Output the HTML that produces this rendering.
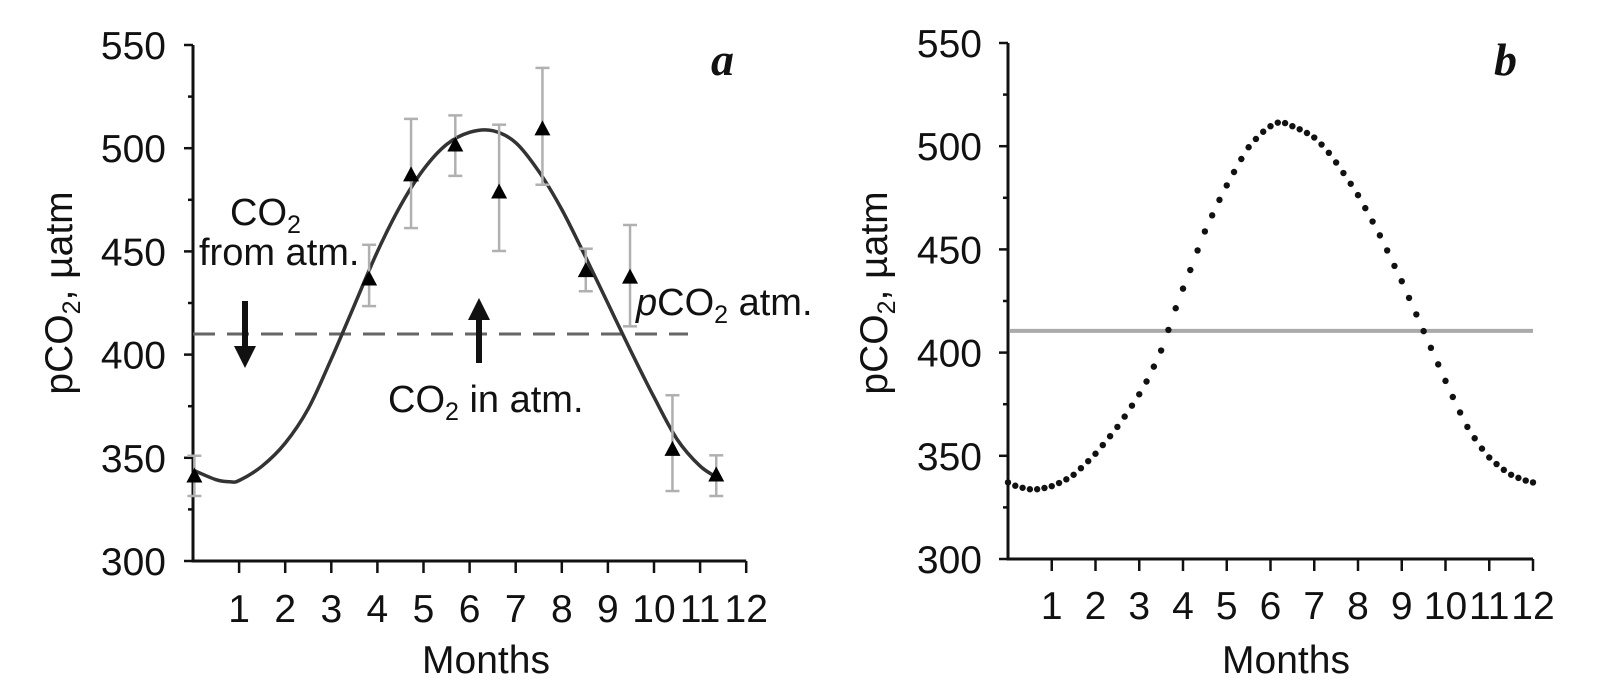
<!DOCTYPE html>
<html><head><meta charset="utf-8">
<style>
html,body{margin:0;padding:0;background:#fff;}
svg{display:block;font-family:"Liberation Sans",Arial,sans-serif;}
</style></head>
<body>
<svg id="chart" width="1606" height="695" viewBox="0 0 1606 695">
  <g id="pa"></g>
  <g id="pb"></g>
</svg>
<script>
// ---------- data ----------
const yTicks = [300, 350, 400, 450, 500, 550];
const xTickLabels = [1,2,3,4,5,6,7,8,9,10,11,12];
// panel a observations
const obsMonths = [0.03, 3.82, 4.73, 5.69, 6.64, 7.58, 8.52, 9.48, 10.4, 11.35];
const obsValues = [341.4, 436.9, 487.3, 501.8, 479.0, 509.6, 440.9, 437.8, 354.3, 341.9];
const obsErrHigh = [351.0, 453.2, 514.2, 515.9, 511.4, 538.9, 451.3, 462.8, 380.3, 351.2];
const obsErrLow = [331.5, 423.5, 461.3, 486.6, 450.2, 482.3, 430.7, 413.7, 333.9, 331.5];
// panel a fitted curve
const fitMonths = [0,0.5,0.8,1,1.5,2,2.5,3,3.5,4,4.5,5,5.5,6,6.5,7,7.5,8,8.5,9,9.5,10,10.5,11,11.4];
const fitValues = [344.1,339.4,338.4,339.0,346.0,357.1,373.8,397.9,423.9,449.9,472.1,489.7,501.8,507.7,508.5,502.7,488.8,470.3,448.0,424.8,401.6,379.4,359.0,346.0,340.1];
const atmValue = 410;
// panel b modeled values (every 1/6 month)
const modelValues = [337.1,335.5,334.5,333.8,333.8,334.4,335.3,336.8,338.6,340.8,344,347.4,351,355.2,359.5,364,369,374.3,379.8,386,393.2,401,411,421.5,431,440,449.5,458.7,466.5,474,481,487.5,493.8,499.5,503.5,507,509.7,511.4,511.2,509.7,508.2,506.4,504.2,500.8,496.8,492.1,487,481.8,476.3,470,463.5,456.8,449.5,442,434.6,426.5,418.5,410.4,402.3,394.3,386.3,378.5,371,364,358.5,353.5,349.2,346,343.2,340.8,339.3,338,337.1];
const modelStep = 1/6;
const atmValueB = 410.5;

// ---------- helpers ----------
const NS = "http://www.w3.org/2000/svg";
function mk(tag, attrs, parent){
  const e = document.createElementNS(NS, tag);
  for (const k in attrs) e.setAttribute(k, attrs[k]);
  parent.appendChild(e); return e;
}
function axesFns(x0, dx, y300, pxPerUnit){
  return { x: m => x0 + m*dx, y: v => y300 - (v-300)*pxPerUnit };
}
function smoothPath(pts){
  let d = "M" + pts[0][0] + "," + pts[0][1];
  for (let i=0;i<pts.length-1;i++){
    const p0=pts[Math.max(0,i-1)], p1=pts[i], p2=pts[i+1], p3=pts[Math.min(pts.length-1,i+2)];
    const c1x=p1[0]+(p2[0]-p0[0])/6, c1y=p1[1]+(p2[1]-p0[1])/6;
    const c2x=p2[0]-(p3[0]-p1[0])/6, c2y=p2[1]-(p3[1]-p1[1])/6;
    d += " C"+c1x+","+c1y+" "+c2x+","+c2y+" "+p2[0]+","+p2[1];
  }
  return d;
}
function drawAxes(g, A, labelRight, tickBase, titleX, monthsX, letter, letterX){
  let e = mk("line",{x1:A.x(0),y1:A.y(550),x2:A.x(0),y2:A.y(300)+1.5,stroke:"#111","stroke-width":3},g);
   
  e = mk("line",{x1:A.x(0)-1.5,y1:A.y(300),x2:A.x(12),y2:A.y(300),stroke:"#111","stroke-width":3},g);
   
  for (let v=300; v<=550; v+=25){
    const major = v%50===0;
    e = mk("line",{x1:A.x(0)-(major?9:5),y1:A.y(v),x2:A.x(0),y2:A.y(v),stroke:"#111","stroke-width":2.5},g);
     
  }
  yTicks.forEach(v=>{
    const t = mk("text",{x:labelRight,y:A.y(v)+14,"text-anchor":"end","font-size":39,fill:"#111"},g);
    t.textContent = v;
     
  });
  xTickLabels.forEach(m=>{
    e = mk("line",{x1:A.x(m),y1:A.y(300),x2:A.x(m),y2:A.y(300)+12,stroke:"#111","stroke-width":2.5},g);
     
    const t = mk("text",{x:A.x(m),y:tickBase,"text-anchor":"middle","font-size":39,fill:"#111"},g);
    t.textContent = m;
     
  });
  const xt = mk("text",{x:monthsX,y:673,"text-anchor":"middle","font-size":39,fill:"#111"},g);
  xt.textContent = "Months";
   
  const yt = mk("text",{x:0,y:0,"text-anchor":"middle","font-size":39,fill:"#111",transform:"translate("+titleX+",293) rotate(-90)"},g);
  yt.innerHTML = 'pCO<tspan font-size="25" dy="8">2</tspan><tspan dy="-8">, µatm</tspan>';
   
  const lt = mk("text",{x:letterX,y:75,"font-size":46,"font-weight":"bold","font-style":"italic","font-family":"'Liberation Serif',serif",fill:"#111"},g);
  lt.textContent = letter;
   
}

// ---------- panel a ----------
const ga = document.getElementById("pa");
const A = axesFns(193, 46.1, 561, 2.064);
drawAxes(ga, A, 166, 622, 72, 486, "a", 711);

let el = mk("line",{x1:A.x(0),y1:A.y(atmValue),x2:688,y2:A.y(atmValue),stroke:"#666","stroke-width":3,"stroke-dasharray":"22 12"},ga);
 

el = mk("path",{d:smoothPath(fitMonths.map((m,i)=>[A.x(m),A.y(fitValues[i])])),fill:"none",stroke:"#333","stroke-width":3.5},ga);
 

obsMonths.forEach((m,i)=>{
  const x = A.x(m);
  const g = mk("g",{},ga);
   
  mk("line",{x1:x,y1:A.y(obsErrHigh[i]),x2:x,y2:A.y(obsErrLow[i]),stroke:"#b0b0b0","stroke-width":2.5},g);
  mk("line",{x1:x-7,y1:A.y(obsErrHigh[i]),x2:x+7,y2:A.y(obsErrHigh[i]),stroke:"#b0b0b0","stroke-width":2.5},g);
  mk("line",{x1:x-7,y1:A.y(obsErrLow[i]),x2:x+7,y2:A.y(obsErrLow[i]),stroke:"#b0b0b0","stroke-width":2.5},g);
  const y = A.y(obsValues[i]);
  mk("polygon",{points:(x-8)+","+(y+7)+" "+(x+8)+","+(y+7)+" "+x+","+(y-8),fill:"#000"},g);
});

el = mk("g",{},ga);
 
mk("line",{x1:245,y1:301,x2:245,y2:350,stroke:"#111","stroke-width":6},el);
mk("polygon",{points:"234,346 256,346 245,368",fill:"#111"},el);
el = mk("g",{},ga);
 
mk("line",{x1:479,y1:316,x2:479,y2:363,stroke:"#111","stroke-width":6},el);
mk("polygon",{points:"468,320 490,320 479,298",fill:"#111"},el);
</script>
<script>
(function(){
  const ga = document.getElementById("pa");
  ga.insertAdjacentHTML("beforeend",
   '<text font-size="38" fill="#111"><tspan x="230" y="225">CO<tspan font-size="25" dy="8">2</tspan></tspan><tspan x="199" y="265">from atm.</tspan></text>'+
   '<text x="388" y="412" font-size="38" fill="#111">CO<tspan font-size="25" dy="8">2</tspan><tspan dy="-8"> in atm.</tspan></text>'+
   '<text x="636" y="315" font-size="38" fill="#111"><tspan font-style="italic">p</tspan>CO<tspan font-size="25" dy="8">2</tspan><tspan dy="-8"> atm.</tspan></text>');
})();

// ---------- panel b ----------
const gb = document.getElementById("pb");
const B = axesFns(1008, 43.75, 559, 2.064);
drawAxes(gb, B, 982, 619, 887, 1286, "b", 1494);

let lb = mk("line",{x1:B.x(0)+2,y1:B.y(atmValueB),x2:B.x(12),y2:B.y(atmValueB),stroke:"#aaa","stroke-width":4},gb);
 

modelValues.forEach((v,i)=>{
  const c = mk("circle",{cx:B.x(i*modelStep),cy:B.y(v),r:3.2,fill:"#111"},gb);
  
  
});
</script>
</body></html>
